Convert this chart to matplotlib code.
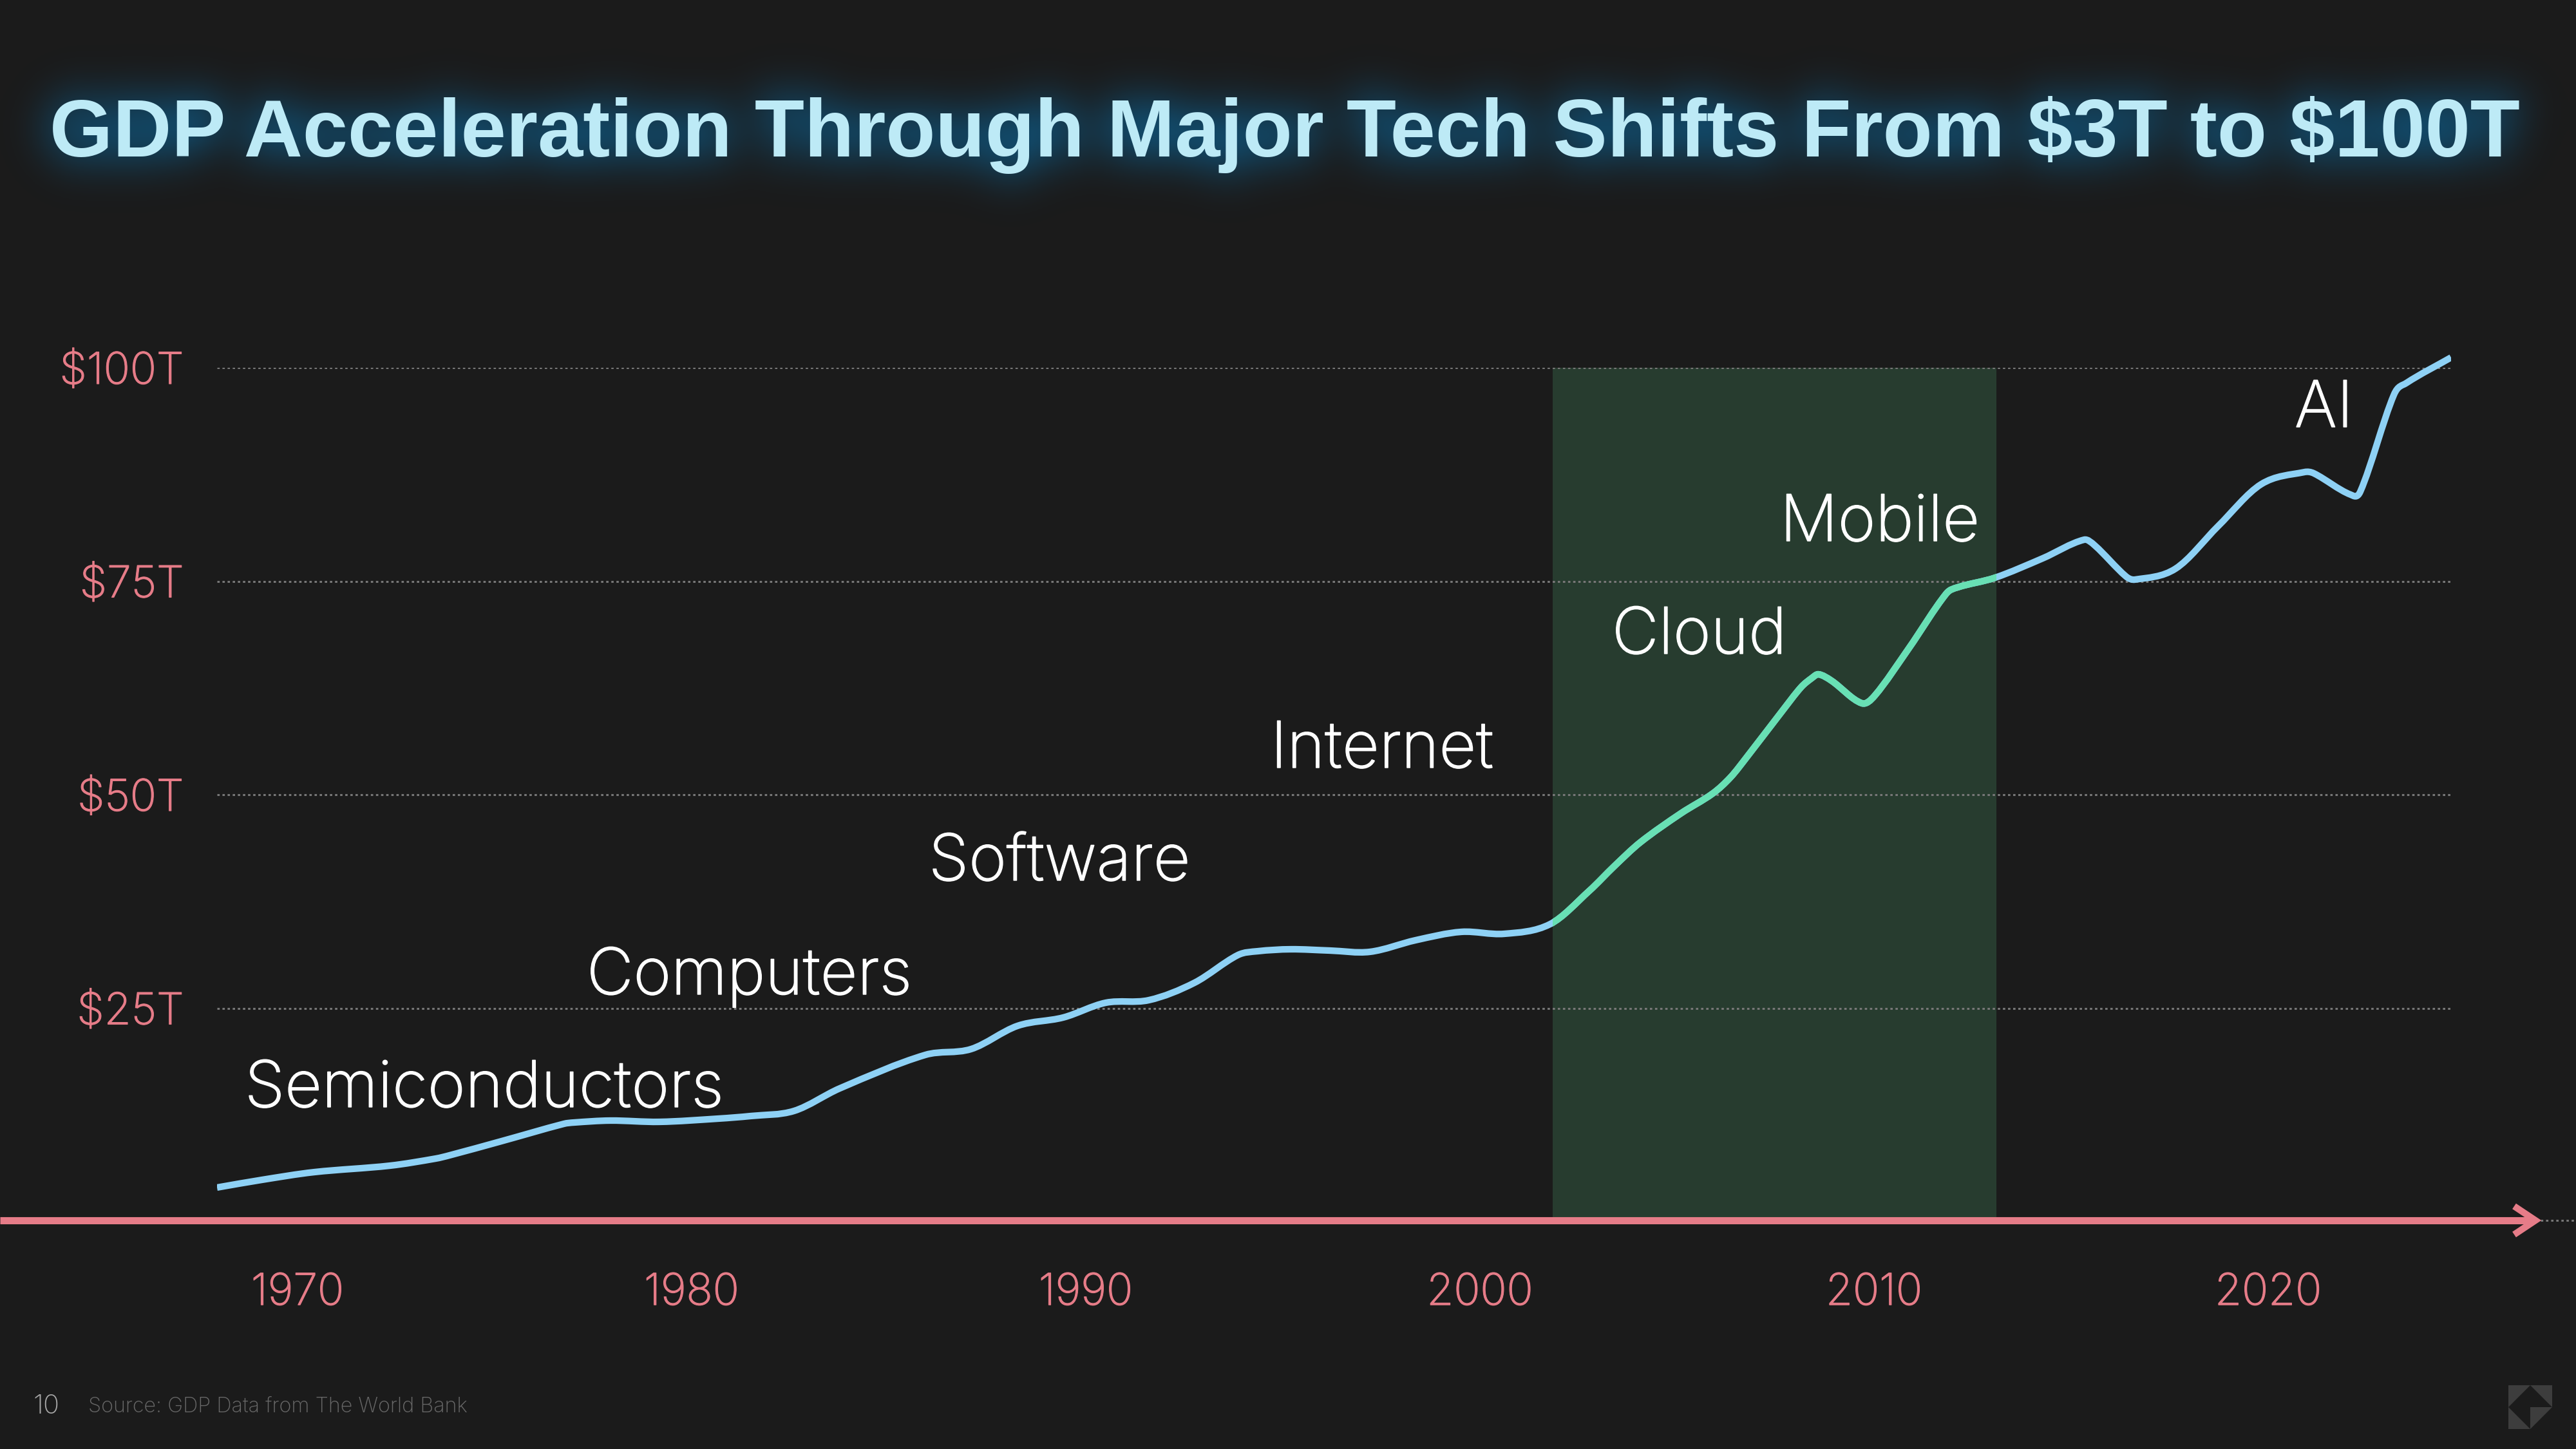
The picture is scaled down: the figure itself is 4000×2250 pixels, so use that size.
import matplotlib
matplotlib.use('Agg')
import matplotlib.pyplot as plt
import matplotlib.patheffects as pe
from matplotlib.lines import Line2D
from matplotlib.patches import PathPatch, Polygon, Rectangle
from matplotlib.path import Path
import numpy as np

# gdp curve (year, trillions)
years = [1967.96, 1969.10, 1970.42, 1972.35, 1973.51, 1973.86, 1975.18, 1976.76, 1977.01, 1977.94,
         1979.18, 1980.69, 1981.50, 1982.60, 1983.76, 1985.93, 1987.09, 1988.27, 1989.43, 1990.51,
         1991.60, 1992.76, 1993.86, 1994.36, 1995.20, 1996.19, 1997.21, 1998.37, 1999.53, 2000.62,
         2001.78, 2002.78, 2003.41, 2004.07, 2005.10, 2005.91, 2006.36, 2006.78, 2007.66, 2008.15,
         2008.42, 2008.59, 2008.92, 2009.69, 2010.02, 2010.88, 2011.83, 2012.12, 2013.07, 2014.28,
         2015.33, 2015.60, 2016.39, 2016.62, 2017.65, 2018.73, 2019.82, 2020.92, 2021.16, 2022.09,
         2022.34, 2023.19, 2023.50, 2024.64]
gdp = [4.0, 4.9, 5.8, 6.56, 7.39, 7.77, 9.43, 11.46, 11.61, 11.84,
       11.69, 12.07, 12.37, 12.97, 15.61, 19.53, 20.21, 22.93, 23.91, 25.64,
       25.94, 27.98, 31.22, 31.67, 31.90, 31.75, 31.60, 32.96, 33.94, 33.71,
       34.84, 38.76, 41.63, 44.42, 47.81, 50.15, 52.04, 54.45, 59.73, 62.59,
       63.65, 64.10, 63.35, 60.71, 61.61, 67.12, 73.53, 74.28, 75.41, 77.68,
       79.86, 79.19, 75.57, 75.19, 76.47, 81.45, 86.35, 87.78, 87.63, 85.14,
       85.52, 96.83, 98.19, 101.2]

band_start = 2001.85
band_end = 2013.11

x_ticks = [1970, 1980, 1990, 2000, 2010, 2020]
y_ticks = [25, 50, 75, 100]
y_labels = ['$25T', '$50T', '$75T', '$100T']

shifts = ['Semiconductors', 'Computers', 'Software', 'Internet', 'Cloud', 'Mobile', 'AI']
shift_px = [(380, 1719), (911, 1544), (1442, 1367), (1973, 1192), (2503, 1015), (2764, 840), (3563, 663)]

title = 'GDP Acceleration Through Major Tech Shifts From $3T to $100T'

W, H = 4000, 2250
BG = '#1b1b1b'
PINK = '#e67c88'
BLUE = '#8ed1f5'
GREEN = '#68e0b4'
GRID = '#777777'
DOTS = (0, (1.2, 1.4))
TITLE_FONT = ['Liberation Sans', 'DejaVu Sans']
TITLE_WIDTH = 3835

plt.rcParams['font.family'] = ['Inter', 'DejaVu Sans']
plt.rcParams['text.parse_math'] = False


def fx(px):
    return px / W


def fy(py):
    return 1 - py / H


def smooth_path(xs, ys):
    # catmull-rom through the read points, as a bezier path
    pts = np.column_stack([xs, ys])
    verts = [pts[0]]
    codes = [Path.MOVETO]
    for i in range(len(pts) - 1):
        p0 = pts[max(i - 1, 0)]
        p1 = pts[i]
        p2 = pts[i + 1]
        p3 = pts[min(i + 2, len(pts) - 1)]
        h = p2[0] - p1[0]
        m1 = (p2 - p0) / max(p2[0] - p0[0], 1e-6) * h
        m2 = (p3 - p1) / max(p3[0] - p1[0], 1e-6) * h
        verts += [p1 + m1 / 3, p2 - m2 / 3, p2]
        codes += [Path.CURVE4] * 3
    return Path(verts, codes)


fig = plt.figure(figsize=(40, 22.5), dpi=100, facecolor=BG)

# title, sized so it spans the same width
title_txt = fig.text(fx(1995), fy(243), title, color='#bdeaf6', fontsize=85, fontweight='bold',
                     family=TITLE_FONT, ha='center', va='baseline', zorder=10)
fig.canvas.draw()
title_txt.set_fontsize(85 * TITLE_WIDTH / title_txt.get_window_extent().width)

# glow: blurred copy of the title sits behind everything
mask_fig = plt.figure(figsize=(40, 22.5), dpi=100, facecolor='black')
mask_fig.text(fx(1995), fy(243), title, color='white', fontsize=title_txt.get_fontsize(), fontweight='bold',
              family=TITLE_FONT, ha='center', va='baseline')
mask_fig.canvas.draw()
mask = np.asarray(mask_fig.canvas.buffer_rgba())[:, :, 0] / 255.0
plt.close(mask_fig)
fy_freq = np.fft.fftfreq(mask.shape[0])[:, None]
fx_freq = np.fft.rfftfreq(mask.shape[1])[None, :]
sigma = 34
blur = np.fft.irfft2(np.fft.rfft2(mask) * np.exp(-2 * (np.pi * sigma) ** 2 * (fx_freq ** 2 + fy_freq ** 2)), s=mask.shape)
glow = np.zeros(mask.shape + (4,))
glow[:, :, :3] = np.array([10, 112, 170]) / 255
glow[:, :, 3] = np.clip(blur * 1.3, 0, 0.6)
bg_ax = fig.add_axes([0, 0, 1, 1], zorder=-1)
bg_ax.imshow(glow, aspect='auto', interpolation='nearest')
bg_ax.axis('off')

ax = fig.add_axes([fx(337), fy(1897), fx(3806 - 337), (1897 - 571) / H])
ax.set_facecolor('none')
ax.set_xlim(1967.96, 2024.64)
ax.set_ylim(0, 100)
for s in ax.spines.values():
    s.set_visible(False)

ax.set_xticks(x_ticks)
ax.set_yticks(y_ticks)
ax.set_yticklabels(y_labels)
ax.tick_params(axis='both', length=0, labelcolor=PINK, labelsize=49)
ax.tick_params(axis='x', pad=57)
ax.tick_params(axis='y', pad=37)
for lab in ax.get_xticklabels() + ax.get_yticklabels():
    lab.set_fontweight('light')
    lab.set_path_effects([pe.withStroke(linewidth=0.8, foreground=PINK)])

ax.axvspan(band_start, band_end, ymin=0.002, ymax=1, color='#273c2f', lw=0, zorder=1)
ax.set_axisbelow('line')
ax.grid(True, axis='y', color=GRID, lw=2.2, ls=DOTS)

curve = smooth_path(years, gdp)
blue = PathPatch(curve, fill=False, ec=BLUE, lw=7.4, capstyle='butt', joinstyle='round', zorder=4)
ax.add_patch(blue)
blue.set_clip_path(Rectangle((years[0], -20), years[-1] - years[0], 140, transform=ax.transData))
green = PathPatch(curve, fill=False, ec=GREEN, lw=7.4, capstyle='butt', joinstyle='round', zorder=5)
ax.add_patch(green)
green.set_clip_path(Rectangle((band_start, -20), band_end - band_start, 140, transform=ax.transData))

# time axis with arrow head, dotted tail
fig.add_artist(Line2D([fx(3945), fx(4000)], [fy(1895), fy(1895)], color=GRID, lw=2.2, ls=DOTS))
fig.add_artist(Line2D([0, fx(3935)], [fy(1895), fy(1895)], color=PINK, lw=8, solid_capstyle='butt'))
fig.add_artist(Line2D([fx(3904), fx(3937), fx(3904)], [fy(1873), fy(1895), fy(1917)], color=PINK, lw=7.4,
                      solid_capstyle='butt', solid_joinstyle='miter'))

for name, (px, py) in zip(shifts, shift_px):
    fig.text(fx(px), fy(py), name, color='white', fontsize=72, fontweight='light', va='baseline', ha='left',
             path_effects=[pe.withStroke(linewidth=1.0, foreground='white')])

fig.text(fx(51), fy(2195), '10', color='#a8a8a8', fontsize=30, fontweight='light', va='baseline')
fig.text(fx(137), fy(2193), 'Source: GDP Data from The World Bank', color='#686868', fontsize=23.3,
         fontweight='light', va='baseline')

# logo
x0, xm, x1 = 3895, 3929, 3963
y0, ym, y1 = 2151, 2185, 2219
for tri in [[(x0, y0), (xm, y0), (x0, ym)], [(xm, y0), (x1, y0), (x1, ym)],
            [(x0, ym), (x0, y1), (xm, y1)], [(xm, ym), (x1, ym), (xm, y1)]]:
    fig.add_artist(Polygon([(fx(a), fy(b)) for a, b in tri], closed=True, fc='#3d3d3d', ec='none',
                           transform=fig.transFigure))

fig.savefig('out.png', dpi=100, facecolor=BG)
